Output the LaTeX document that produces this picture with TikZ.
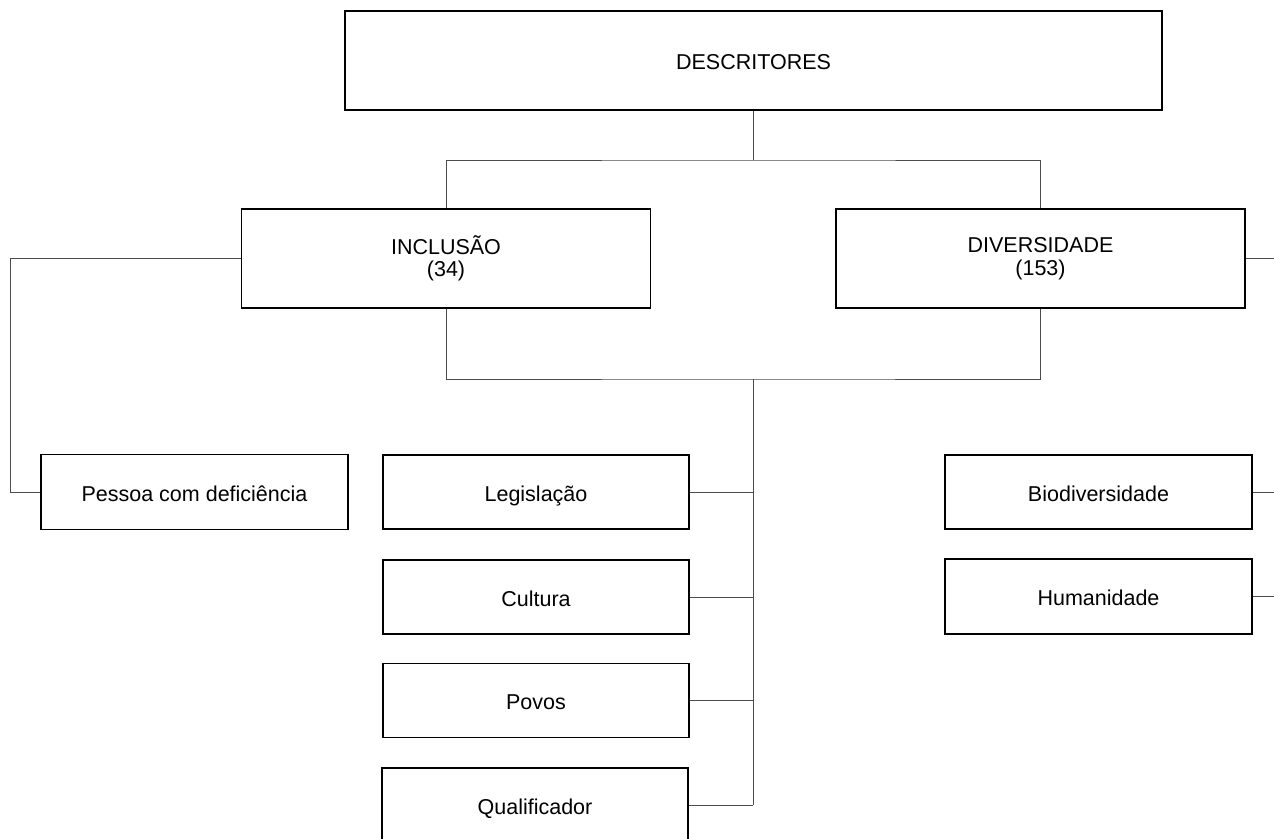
\documentclass[tikz,border=0pt]{standalone}
\usepackage{fontspec}
\setmainfont{Liberation Sans}
\begin{document}
\begin{tikzpicture}[x=1pt,y=-1pt,
  box/.style={draw=black, line width=1.5pt, inner sep=0pt, align=center,
    font=\fontsize{21.5}{22.5}\selectfont, minimum width=306pt, minimum height=74pt},
  one/.style={box, text height=18pt, text depth=0pt},
  big/.style={box, minimum width=409pt, minimum height=99pt},
  conn/.style={draw=black!70, line width=1pt}]
\useasboundingbox (0,0) rectangle (1274,838);
\fill[white] (0,0) rectangle (1274,838);
\node[one, minimum width=817pt, minimum height=99pt] (desc) at (753.5,60.5) {DESCRITORES};
\node[big] (incl) at (446,258.5) {INCLUSÃO\\(34)};
\node[big] (div) at (1040.5,258.5) {DIVERSIDADE\\(153)};
\node[one, minimum width=307pt, minimum height=75pt] (pess) at (194.5,492) {Pessoa com deficiência};
\node[one] (leg) at (536,492) {Legislação};
\node[one] (cult) at (536,597) {Cultura};
\node[one] (povo) at (536,700.5) {Povos};
\node[one] (qual) at (535,805) {Qualificador};
\node[one, minimum width=307pt] (bio) at (1098.5,492) {Biodiversidade};
\node[one, minimum width=307pt, minimum height=75pt] (hum) at (1098.5,596.5) {Humanidade};
\coordinate (top) at (753.5,160);
\coordinate (hub) at (753,379);
\coordinate (trunk) at (753,805);
\coordinate (lft) at (10,0);
\coordinate (rgt) at (1274,0);
\draw[conn] (desc.south) -- (top);
\draw[conn] (incl.north) |- (top) -| (div.north);
\draw[conn] (incl.west) -| (lft |- pess.west) -- (pess.west);
\draw[conn] (incl.south) |- (hub) -| (div.south);
\draw[conn] (hub) -- (trunk);
\draw[conn] (leg.east) -- (hub |- leg.east);
\draw[conn] (cult.east) -- (hub |- cult.east);
\draw[conn] (povo.east) -- (hub |- povo.east);
\draw[conn] (qual.east) -- (trunk);
\draw[conn] (div.east) -- (rgt |- div.east);
\draw[conn] (bio.east) -- (rgt |- bio.east);
\draw[conn] (hum.east) -- (rgt |- hum.east);
\end{tikzpicture}
\end{document}
